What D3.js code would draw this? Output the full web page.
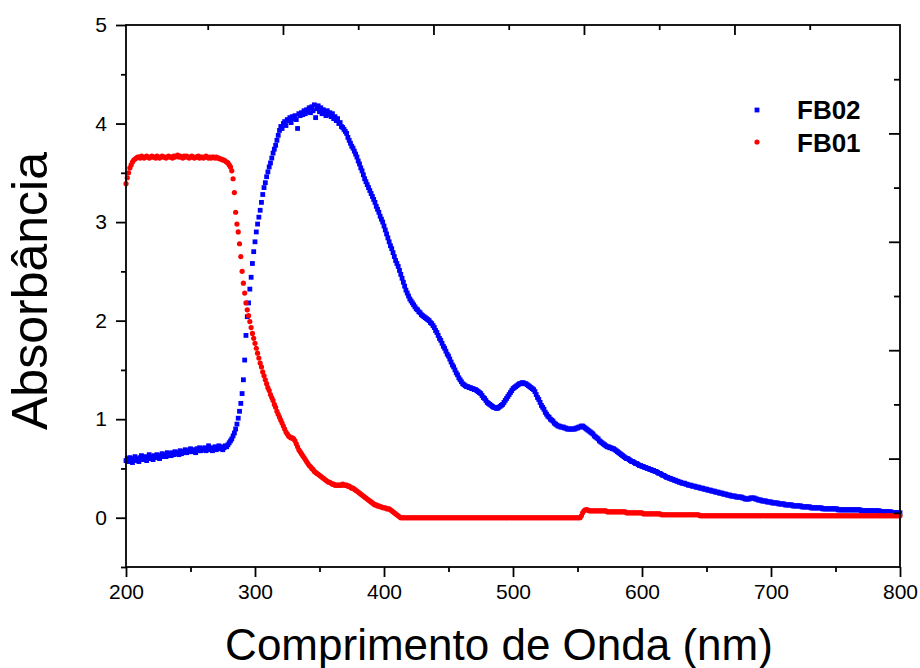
<!DOCTYPE html>
<html>
<head>
<meta charset="utf-8">
<script src="https://cdn.jsdelivr.net/npm/d3@7"></script>
<style>
  html, body { margin: 0; padding: 0; background: #ffffff; }
  svg { display: block; font-family: "Liberation Sans", Arial, sans-serif; }
</style>
</head>
<body>
<svg id="chart" width="920" height="668"></svg>
<script>
// Spectra sampled every 1 nm from 200 nm to 800 nm
const wavelengthStart = 200;
const wavelengthStep = 1;

const fb01Absorbance = [
  3.39,3.45,3.50,3.55,3.58,3.61,3.63,3.64,3.65,3.66,
  3.66,3.65,3.67,3.66,3.65,3.66,3.67,3.66,3.65,3.66,
  3.67,3.66,3.66,3.65,3.67,3.66,3.65,3.66,3.67,3.66,
  3.66,3.65,3.66,3.67,3.66,3.66,3.65,3.67,3.66,3.67,
  3.68,3.66,3.67,3.66,3.65,3.67,3.66,3.67,3.66,3.65,
  3.66,3.67,3.66,3.65,3.66,3.66,3.67,3.65,3.66,3.66,
  3.65,3.66,3.67,3.66,3.65,3.66,3.65,3.66,3.66,3.65,
  3.66,3.65,3.65,3.64,3.64,3.63,3.63,3.62,3.61,3.60,
  3.58,3.56,3.52,3.44,3.30,3.10,2.98,2.90,2.78,2.65,
  2.50,2.38,2.28,2.18,2.11,2.05,1.99,1.93,1.87,1.82,
  1.77,1.72,1.67,1.62,1.57,1.53,1.48,1.44,1.40,1.36,
  1.32,1.29,1.25,1.22,1.19,1.15,1.12,1.08,1.05,1.02,
  0.99,0.96,0.93,0.90,0.87,0.85,0.83,0.82,0.81,0.81,
  0.80,0.78,0.75,0.72,0.69,0.67,0.65,0.63,0.61,0.59,
  0.57,0.55,0.53,0.52,0.50,0.49,0.47,0.46,0.45,0.44,
  0.43,0.42,0.41,0.40,0.39,0.38,0.37,0.36,0.36,0.35,
  0.34,0.34,0.33,0.33,0.33,0.33,0.33,0.33,0.34,0.33,
  0.33,0.33,0.32,0.32,0.31,0.30,0.30,0.29,0.28,0.27,
  0.26,0.25,0.24,0.23,0.22,0.21,0.20,0.19,0.18,0.17,
  0.16,0.15,0.14,0.13,0.13,0.12,0.12,0.11,0.11,0.10,
  0.10,0.10,0.09,0.09,0.09,0.08,0.07,0.06,0.05,0.04,
  0.03,0.02,0.01,0,0,0,0,0,0,0,
  0,0,0,0,0,0,0,0,0,0,
  0,0,0,0,0,0,0,0,0,0,
  0,0,0,0,0,0,0,0,0,0,
  0,0,0,0,0,0,0,0,0,0,
  0,0,0,0,0,0,0,0,0,0,
  0,0,0,0,0,0,0,0,0,0,
  0,0,0,0,0,0,0,0,0,0,
  0,0,0,0,0,0,0,0,0,0,
  0,0,0,0,0,0,0,0,0,0,
  0,0,0,0,0,0,0,0,0,0,
  0,0,0,0,0,0,0,0,0,0,
  0,0,0,0,0,0,0,0,0,0,
  0,0,0,0,0,0,0,0,0,0,
  0,0,0,0.02,0.05,0.07,0.08,0.08,0.08,0.07,
  0.07,0.07,0.07,0.07,0.07,0.07,0.07,0.07,0.07,0.07,
  0.07,0.07,0.07,0.06,0.06,0.06,0.06,0.06,0.06,0.06,
  0.06,0.06,0.06,0.06,0.06,0.06,0.06,0.06,0.05,0.05,
  0.05,0.05,0.05,0.05,0.05,0.05,0.05,0.05,0.05,0.05,
  0.05,0.04,0.04,0.04,0.04,0.04,0.04,0.04,0.04,0.04,
  0.04,0.04,0.04,0.04,0.04,0.03,0.03,0.03,0.03,0.03,
  0.03,0.03,0.03,0.03,0.03,0.03,0.03,0.03,0.03,0.03,
  0.03,0.03,0.03,0.03,0.03,0.03,0.03,0.03,0.03,0.03,
  0.03,0.03,0.03,0.03,0.03,0.02,0.02,0.02,0.02,0.02,
  0.02,0.02,0.02,0.02,0.02,0.02,0.02,0.02,0.02,0.02,
  0.02,0.02,0.02,0.02,0.02,0.02,0.02,0.02,0.02,0.02,
  0.02,0.02,0.02,0.02,0.02,0.02,0.02,0.02,0.02,0.02,
  0.02,0.02,0.02,0.02,0.02,0.02,0.02,0.02,0.02,0.02,
  0.02,0.02,0.02,0.02,0.02,0.02,0.02,0.02,0.02,0.02,
  0.02,0.02,0.02,0.02,0.02,0.02,0.02,0.02,0.02,0.02,
  0.02,0.02,0.02,0.02,0.02,0.02,0.02,0.02,0.02,0.02,
  0.02,0.02,0.02,0.02,0.02,0.02,0.02,0.02,0.02,0.02,
  0.02,0.02,0.02,0.02,0.02,0.02,0.02,0.02,0.02,0.02,
  0.02,0.02,0.02,0.02,0.02,0.02,0.02,0.02,0.02,0.02,
  0.02,0.02,0.02,0.02,0.02,0.02,0.02,0.02,0.02,0.02,
  0.02,0.02,0.02,0.02,0.02,0.02,0.02,0.02,0.02,0.02,
  0.02,0.02,0.02,0.02,0.02,0.02,0.02,0.02,0.02,0.02,
  0.02,0.02,0.02,0.02,0.02,0.02,0.02,0.02,0.02,0.02,
  0.02,0.02,0.02,0.02,0.02,0.02,0.02,0.02,0.02,0.02,
  0.02
];

const fb02Absorbance = [
  0.58,0.60,0.57,0.61,0.59,0.56,0.60,0.62,0.58,0.60,
  0.57,0.61,0.63,0.59,0.60,0.62,0.58,0.61,0.64,0.60,
  0.62,0.59,0.63,0.61,0.64,0.62,0.60,0.63,0.65,0.62,
  0.64,0.62,0.66,0.63,0.65,0.63,0.66,0.64,0.67,0.65,
  0.66,0.64,0.68,0.65,0.67,0.66,0.69,0.66,0.68,0.67,
  0.70,0.67,0.69,0.68,0.66,0.70,0.68,0.71,0.68,0.70,
  0.69,0.71,0.68,0.70,0.73,0.69,0.71,0.68,0.70,0.72,
  0.69,0.71,0.73,0.70,0.72,0.69,0.71,0.73,0.72,0.74,
  0.76,0.78,0.80,0.83,0.86,0.90,0.95,1.01,1.08,1.16,
  1.26,1.40,1.60,1.85,2.04,2.18,2.32,2.44,2.58,2.70,
  2.80,2.90,2.98,3.05,3.12,3.20,3.28,3.35,3.40,3.46,
  3.51,3.56,3.60,3.65,3.70,3.74,3.78,3.83,3.88,3.93,
  3.97,3.95,4.00,4.02,3.98,4.04,4.03,4.06,4.01,4.07,
  4.05,4.08,4.04,3.95,4.10,4.08,4.11,4.09,4.13,4.10,
  4.14,4.12,4.16,4.11,4.17,4.13,4.19,4.06,4.15,4.18,
  4.12,4.16,4.10,4.14,4.11,4.08,4.13,4.09,4.11,4.07,
  4.10,4.05,4.07,4.03,4.05,4.00,4.01,3.97,3.96,3.94,
  3.92,3.90,3.86,3.83,3.80,3.77,3.75,3.72,3.69,3.66,
  3.62,3.59,3.55,3.52,3.48,3.44,3.41,3.38,3.35,3.32,
  3.29,3.26,3.23,3.20,3.16,3.13,3.10,3.06,3.03,3.00,
  2.96,2.92,2.88,2.84,2.80,2.76,2.73,2.69,2.65,2.61,
  2.58,2.55,2.51,2.47,2.43,2.39,2.35,2.31,2.28,2.25,
  2.22,2.20,2.18,2.16,2.14,2.12,2.11,2.09,2.08,2.06,
  2.05,2.04,2.03,2.02,2.01,2.00,1.98,1.97,1.95,1.93,
  1.90,1.88,1.85,1.82,1.80,1.77,1.74,1.72,1.69,1.66,
  1.64,1.61,1.58,1.55,1.53,1.50,1.47,1.45,1.42,1.40,
  1.38,1.36,1.35,1.34,1.33,1.33,1.32,1.32,1.31,1.31,
  1.30,1.30,1.29,1.28,1.27,1.26,1.24,1.22,1.21,1.19,
  1.17,1.16,1.15,1.14,1.13,1.12,1.12,1.11,1.11,1.12,
  1.13,1.14,1.15,1.17,1.19,1.21,1.23,1.25,1.27,1.29,
  1.31,1.32,1.33,1.34,1.35,1.36,1.36,1.37,1.37,1.36,
  1.36,1.35,1.34,1.33,1.32,1.31,1.30,1.28,1.25,1.22,
  1.20,1.17,1.14,1.12,1.10,1.07,1.05,1.03,1.02,1.00,
  0.99,0.98,0.96,0.95,0.94,0.93,0.93,0.92,0.92,0.92,
  0.91,0.91,0.90,0.90,0.90,0.90,0.90,0.90,0.90,0.91,
  0.91,0.92,0.92,0.93,0.93,0.92,0.91,0.90,0.89,0.88,
  0.87,0.86,0.85,0.83,0.82,0.81,0.80,0.78,0.77,0.76,
  0.75,0.74,0.73,0.72,0.72,0.71,0.71,0.70,0.70,0.69,
  0.68,0.67,0.66,0.65,0.64,0.63,0.62,0.61,0.60,0.60,
  0.59,0.58,0.57,0.57,0.56,0.55,0.55,0.54,0.53,0.53,
  0.52,0.52,0.51,0.51,0.50,0.50,0.49,0.49,0.48,0.48,
  0.47,0.47,0.46,0.45,0.45,0.44,0.43,0.43,0.42,0.41,
  0.41,0.40,0.40,0.39,0.39,0.38,0.38,0.37,0.37,0.36,
  0.36,0.35,0.35,0.35,0.34,0.34,0.33,0.33,0.33,0.32,
  0.32,0.32,0.31,0.31,0.31,0.30,0.30,0.30,0.29,0.29,
  0.29,0.28,0.28,0.28,0.27,0.27,0.27,0.26,0.26,0.26,
  0.25,0.25,0.25,0.24,0.24,0.24,0.23,0.23,0.23,0.22,
  0.22,0.22,0.22,0.21,0.21,0.21,0.21,0.21,0.20,0.20,
  0.19,0.19,0.19,0.19,0.20,0.20,0.20,0.20,0.19,0.19,
  0.18,0.18,0.18,0.17,0.17,0.17,0.17,0.16,0.16,0.16,
  0.16,0.15,0.15,0.15,0.15,0.15,0.14,0.14,0.14,0.14,
  0.14,0.13,0.13,0.13,0.13,0.13,0.13,0.12,0.12,0.12,
  0.12,0.12,0.12,0.12,0.11,0.11,0.11,0.11,0.11,0.11,
  0.11,0.10,0.10,0.10,0.10,0.10,0.10,0.10,0.10,0.10,
  0.09,0.09,0.09,0.09,0.09,0.09,0.09,0.09,0.09,0.09,
  0.09,0.09,0.08,0.08,0.08,0.08,0.08,0.08,0.08,0.08,
  0.08,0.08,0.08,0.08,0.08,0.08,0.08,0.08,0.08,0.08,
  0.07,0.07,0.07,0.07,0.07,0.07,0.07,0.07,0.07,0.07,
  0.07,0.07,0.07,0.07,0.07,0.06,0.06,0.06,0.06,0.06,
  0.06,0.06,0.06,0.06,0.05,0.05,0.05,0.05,0.05,0.05,
  0.05
];

const xTickValues = [200, 300, 400, 500, 600, 700, 800];
const xMinorTickValues = [250, 350, 450, 550, 650, 750];
const yTickValues = [0, 1, 2, 3, 4, 5];
const yMinorTickValues = [-0.5, 0.5, 1.5, 2.5, 3.5, 4.5];
const rightTickValues = [1, 2, 3, 4];
const rightMinorTickValues = [0.5, 1.5, 2.5, 3.5, 4.5];
const topTickValues = [1, 2, 3, 4];
const topMinorTickValues = [0.5, 1.5, 2.5, 3.5, 4.5];

const seriesNames = ["FB02", "FB01"];
const seriesColors = ["#0000ff", "#ff0000"];

const xTitle = "Comprimento de Onda (nm)";
const yTitle = "Absorbância";

// ---- layout ----
const svg = d3.select("#chart");
const margin = { top: 25, right: 20, bottom: 101, left: 126 };
const W = 920, H = 668;
const innerW = W - margin.left - margin.right;
const innerH = H - margin.top - margin.bottom;

const x = d3.scaleLinear().domain([200, 800]).range([0, innerW]);
const y = d3.scaleLinear().domain([-0.5, 5]).range([innerH, 0]);
const yRight = d3.scaleLinear().domain([0, 5]).range([innerH, 0]);
const xTop = d3.scaleLinear().domain([-0.043, 5.1]).range([0, innerW]);

const g = svg.append("g").attr("transform", `translate(${margin.left},${margin.top})`);

const toPoints = arr => arr.map((a, i) => ({ w: wavelengthStart + i * wavelengthStep, a }));
const fb02Points = toPoints(fb02Absorbance);
const fb01Points = toPoints(fb01Absorbance);

// ---- data marks ----
const plot = g.append("g");
const sq = 4.8;
plot.append("g").selectAll("rect")
  .data(fb02Points).join("rect")
  .attr("x", d => x(d.w) - sq / 2)
  .attr("y", d => y(d.a) - sq / 2)
  .attr("width", sq).attr("height", sq)
  .attr("fill", seriesColors[0]);

plot.append("g").selectAll("circle")
  .data(fb01Points).join("circle")
  .attr("cx", d => x(d.w))
  .attr("cy", d => y(d.a))
  .attr("r", 2.6)
  .attr("fill", seriesColors[1]);

// ---- axes ----
const fontSize = 21;
function styleAxis(sel) {
  sel.select(".domain").remove();
  sel.selectAll(".tick line").attr("stroke", "#000").attr("stroke-width", 1.8);
  sel.selectAll(".tick text").attr("fill", "#000").attr("font-size", fontSize)
    .attr("font-family", "'Liberation Sans', Arial, sans-serif");
}

g.append("g").attr("transform", `translate(0,${innerH})`)
  .call(d3.axisBottom(x).tickValues(xTickValues).tickSize(10).tickPadding(7).tickFormat(d3.format("d")))
  .call(styleAxis);
g.append("g").attr("transform", `translate(0,${innerH})`)
  .call(d3.axisBottom(x).tickValues(xMinorTickValues).tickSize(5).tickFormat(""))
  .call(styleAxis);

g.append("g")
  .call(d3.axisLeft(y).tickValues(yTickValues).tickSize(10).tickPadding(9).tickFormat(d3.format("d")))
  .call(styleAxis);
g.append("g")
  .call(d3.axisLeft(y).tickValues(yMinorTickValues).tickSize(5).tickFormat(""))
  .call(styleAxis);

// inward ticks on the top and right frame edges
g.append("g")
  .call(d3.axisTop(xTop).tickValues(topTickValues).tickSize(-10).tickFormat(""))
  .call(styleAxis);
g.append("g")
  .call(d3.axisTop(xTop).tickValues(topMinorTickValues).tickSize(-5).tickFormat(""))
  .call(styleAxis);
g.append("g").attr("transform", `translate(${innerW},0)`)
  .call(d3.axisRight(yRight).tickValues(rightTickValues).tickSize(-11).tickFormat(""))
  .call(styleAxis);
g.append("g").attr("transform", `translate(${innerW},0)`)
  .call(d3.axisRight(yRight).tickValues(rightMinorTickValues).tickSize(-6).tickFormat(""))
  .call(styleAxis);

// frame
g.append("rect")
  .attr("x", 0).attr("y", 0).attr("width", innerW).attr("height", innerH)
  .attr("fill", "none").attr("stroke", "#000").attr("stroke-width", 1.8);

// ---- titles ----
svg.append("text")
  .attr("x", 499).attr("y", 660)
  .attr("text-anchor", "middle")
  .attr("font-size", 44)
  .attr("fill", "#000")
  .text(xTitle);

svg.append("text")
  .attr("transform", "translate(47,291) rotate(-90)")
  .attr("text-anchor", "middle")
  .attr("font-size", 50)
  .attr("fill", "#000")
  .text(yTitle);

// ---- legend ----
const legend = svg.append("g");
const legendRows = [
  { name: seriesNames[0], color: seriesColors[0], shape: "square", cy: 110, ty: 119 },
  { name: seriesNames[1], color: seriesColors[1], shape: "circle", cy: 142, ty: 152 }
];
legendRows.forEach(r => {
  if (r.shape === "square") {
    legend.append("rect").attr("x", 757 - 2.4).attr("y", r.cy - 2.4)
      .attr("width", 4.8).attr("height", 4.8).attr("fill", r.color);
  } else {
    legend.append("circle").attr("cx", 757).attr("cy", r.cy).attr("r", 2.6).attr("fill", r.color);
  }
  legend.append("text")
    .attr("x", 797).attr("y", r.ty)
    .attr("font-size", 26).attr("font-weight", "bold").attr("fill", "#000")
    .text(r.name);
});
</script>
</body>
</html>
